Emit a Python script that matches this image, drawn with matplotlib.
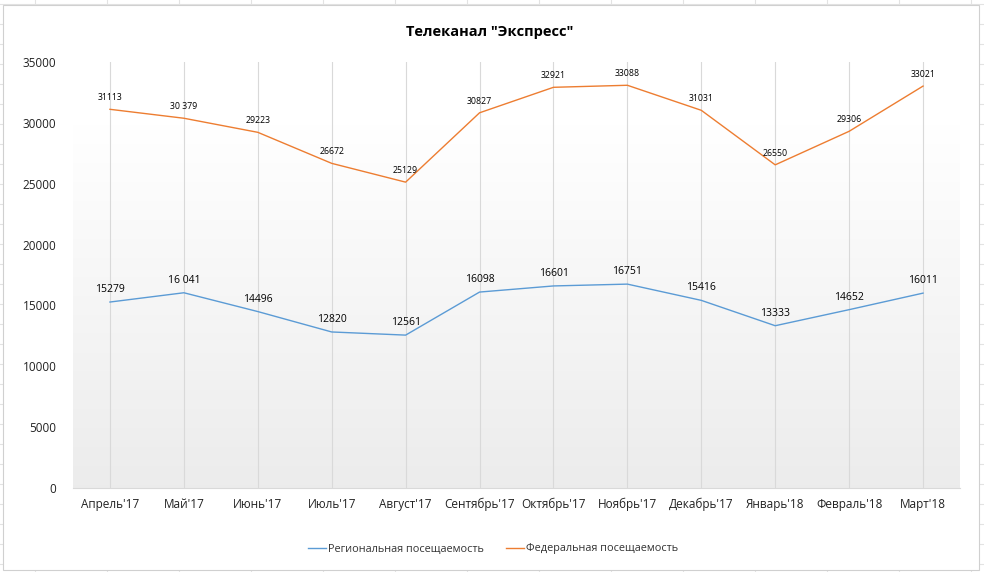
import matplotlib
matplotlib.use("Agg")
import matplotlib.pyplot as plt
import numpy as np
from matplotlib.lines import Line2D

plt.rcParams['font.family'] = ['Open Sans', 'DejaVu Sans']

categories = ["Апрель'17", "Май'17", "Июнь'17", "Июль'17", "Август'17", "Сентябрь'17",
              "Октябрь'17", "Ноябрь'17", "Декабрь'17", "Январь'18", "Февраль'18", "Март'18"]
regional = [15279, 16041, 14496, 12820, 12561, 16098, 16601, 16751, 15416, 13333, 14652, 16011]
federal = [31113, 30379, 29223, 26672, 25129, 30827, 32921, 33088, 31031, 26550, 29306, 33021]
regional_labels = ["15279", "16 041", "14496", "12820", "12561", "16098", "16601", "16751",
                   "15416", "13333", "14652", "16011"]
federal_labels = ["31113", "30 379", "29223", "26672", "25129", "30827", "32921", "33088",
                  "31031", "26550", "29306", "33021"]
yticks = [0, 5000, 10000, 15000, 20000, 25000, 30000, 35000]
title = 'Телеканал "Экспресс"'
series_names = ["Региональная посещаемость", "Федеральная посещаемость"]

W, H = 984, 572
fig = plt.figure(figsize=(W / 100, H / 100), dpi=100)
fig.patch.set_facecolor('white')

# Excel cell grid outside chart
bg = fig.add_axes([0, 0, 1, 1], zorder=-10)
bg.set_xlim(0, W); bg.set_ylim(H, 0); bg.axis('off')
for gx in np.arange(35, W, 72):
    bg.plot([gx, gx], [0, H], color='#e3e3e3', lw=0.8, zorder=1)
for gy in np.arange(4, H, 20):
    bg.plot([0, W], [gy, gy], color='#e3e3e3', lw=0.8, zorder=1)
bg.add_patch(plt.Rectangle((3, 5), 976, 565, facecolor='white', edgecolor='#d0d0d0',
                           lw=0.8, zorder=5))

left, right, top, bottom = 73, 960, 62, 488
ax = fig.add_axes([left / W, 1 - bottom / H, (right - left) / W, (bottom - top) / H])
ax.set_facecolor('none')
x = np.arange(len(categories))
ax.set_xlim(-0.5, len(categories) - 0.5)
ax.set_ylim(0, 35000)

# gradient background (white at top, light grey at bottom)
grad = np.linspace(0, 1, 256).reshape(-1, 1)
cvals = np.clip((grad - 0.15) / 0.85, 0, 1)
img = np.ones((256, 1, 3))
shade = 1 - 0.075 * cvals
img[:, :, 0] = shade; img[:, :, 1] = shade; img[:, :, 2] = shade
ax.imshow(img, extent=[-0.5, len(categories) - 0.5, 0, 35000], aspect='auto', zorder=0)

for xi in x:
    ax.axvline(xi, color='#d9d9d9', lw=0.8, zorder=1)

ax.plot(x, regional, color='#5b9bd5', lw=1.0, zorder=3)
ax.plot(x, federal, color='#ed7d31', lw=1.0, zorder=3)

for xi, v, lab in zip(x, regional, regional_labels):
    ax.annotate(lab, (xi, v), xytext=(0, 5), textcoords='offset points', ha='center',
                va='bottom', fontsize=7.5, color='#000000', zorder=4)
for xi, v, lab in zip(x, federal, federal_labels):
    ax.annotate(lab, (xi, v), xytext=(0, 5), textcoords='offset points', ha='center',
                va='bottom', fontsize=6.3, color='#000000', zorder=4)

for s in ['top', 'right', 'left']:
    ax.spines[s].set_visible(False)
ax.spines['bottom'].set_color('#d9d9d9')
ax.spines['bottom'].set_linewidth(0.8)
ax.set_xticks(x)
ax.set_xticklabels(categories, fontsize=8.5, color='#222222')
ax.set_yticks(yticks)
ax.set_yticklabels([str(t) for t in yticks], fontsize=8.5, color='#222222')
ax.tick_params(length=0, axis='both')
ax.tick_params(axis='x', pad=7)
ax.tick_params(axis='y', pad=12)

fig.text(490 / W, 1 - 32 / H, title, ha='center', va='center', fontsize=10.5, fontweight='bold')

handles = [Line2D([], [], color='#5b9bd5', lw=1.0), Line2D([], [], color='#ed7d31', lw=1.0)]
fig.legend(handles, series_names, loc='center', bbox_to_anchor=(493 / W, 1 - 549 / H),
           ncol=2, frameon=False, fontsize=7.8, handlelength=1.7, handletextpad=0.2,
           columnspacing=2.0, labelcolor='#333333')

fig.savefig('out.png', dpi=100)
